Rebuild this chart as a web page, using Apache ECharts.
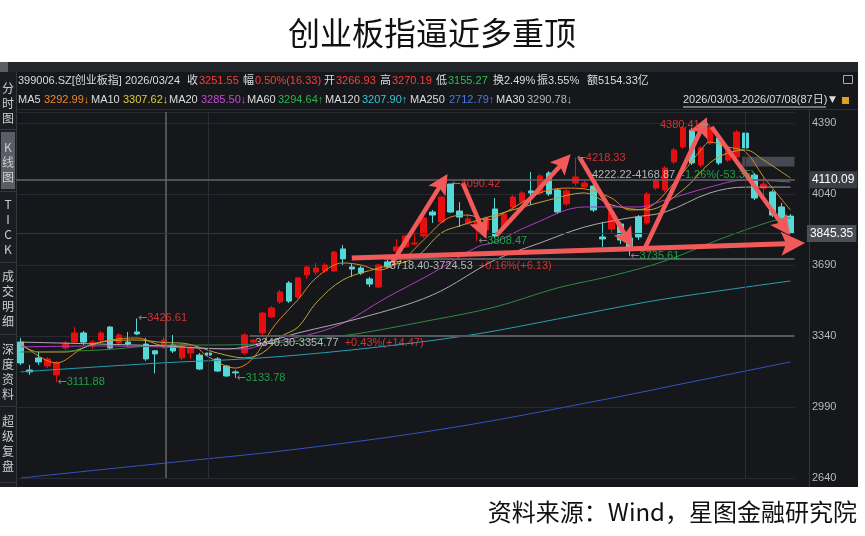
<!DOCTYPE html>
<html>
<head>
<meta charset="utf-8">
<script src="https://cdn.jsdelivr.net/npm/echarts@6.0.0/dist/echarts.min.js"></script>
<style>
html, body { margin: 0; padding: 0; background: #fff; }
#charts { width: 865px; height: 536px; }
</style>
</head>
<body>
<div id="charts"></div>
<script>
// trading days shown (2026/03/03 - 2026/07/08, 87 days)
var monthDays = {
    '03': [3, 4, 5, 6, 9, 10, 11, 12, 13, 16, 17, 18, 19, 20, 23, 24, 25, 26, 27, 30, 31],
    '04': [1, 2, 3, 7, 8, 9, 10, 13, 14, 15, 16, 17, 20, 21, 22, 23, 24, 27, 28, 29, 30],
    '05': [6, 7, 8, 11, 12, 13, 14, 15, 18, 19, 20, 21, 22, 25, 26, 27, 28, 29],
    '06': [1, 2, 3, 4, 5, 8, 9, 10, 11, 12, 15, 16, 17, 18, 22, 23, 24, 25, 26, 29, 30],
    '07': [1, 2, 3, 6, 7, 8]
};
var dates = [];
Object.keys(monthDays).forEach(function (m) {
    monthDays[m].forEach(function (d) {
        dates.push('2026/' + m + '/' + (d < 10 ? '0' + d : d));
    });
});

var opens = [3310, 3172, 3232, 3192, 3148, 3281, 3310, 3355, 3291, 3320,
    3384, 3305, 3310, 3360, 3300, 3266.93, 3286, 3296, 3232, 3256,
    3246, 3256, 3227, 3192, 3163, 3256, 3310, 3355, 3434, 3508,
    3601, 3532, 3641, 3655, 3660, 3660, 3769, 3680, 3675, 3621,
    3581, 3705, 3759, 3779, 3793, 3833, 3951, 3902, 4089, 3956,
    3897, 3877, 3862, 3966, 3877, 3976, 4000, 4055, 4045, 4143,
    4060, 3991, 4094, 4074, 4079, 3828, 3867, 3892, 3823, 3926,
    3897, 4069, 4060, 4198, 4272, 4355, 4183, 4291, 4316, 4207,
    4222, 4340, 4133, 4069, 4050, 3976, 3931];
var closes = [3207, 3163, 3212, 3227, 3207, 3305, 3355, 3310, 3310, 3355,
    3281, 3345, 3300, 3350, 3227, 3251.55, 3320, 3266, 3291, 3281,
    3177, 3246, 3167, 3143, 3158, 3345, 3320, 3453, 3478, 3557,
    3512, 3626, 3680, 3675, 3690, 3754, 3720, 3670, 3650, 3596,
    3690, 3680, 3779, 3833, 3798, 3922, 3936, 4025, 3951, 3926,
    3917, 3902, 3922, 3833, 3941, 4025, 4045, 4045, 4129, 4040,
    3951, 4055, 4124, 4094, 3961, 3818, 3951, 3813, 3774, 3828,
    4040, 4109, 4168, 4257, 4365, 4193, 4267, 4370, 4193, 4257,
    4345, 4267, 4020, 4089, 3936, 3912, 3845.35];
var lows = [3197, 3148, 3197, 3182, 3111.88, 3271, 3305, 3296, 3276, 3305,
    3276, 3291, 3291, 3345, 3217, 3155.27, 3276, 3256, 3222, 3227,
    3172, 3207, 3163, 3138, 3133.78, 3246, 3305, 3345, 3429, 3498,
    3503, 3522, 3621, 3641, 3650, 3655, 3690, 3631, 3641, 3581,
    3576, 3675, 3754, 3774, 3788, 3823, 3897, 3897, 3946, 3877,
    3887, 3808.47, 3833, 3823, 3867, 3966, 3991, 3986, 4035, 4030,
    3941, 3981, 4079, 4065, 3951, 3779, 3848, 3793, 3735.61, 3813,
    3887, 4060, 4050, 4188, 4262, 4183, 4173, 4281, 4183, 4198,
    4212, 4257, 4010, 4030, 3926, 3902, 3843];
var highs = [3330, 3197, 3261, 3236, 3217, 3315, 3384, 3365, 3320, 3365,
    3389, 3355, 3360, 3426.61, 3330, 3270.19, 3335, 3345, 3300, 3291,
    3256, 3261, 3236, 3197, 3172, 3355, 3325, 3458, 3488, 3567,
    3611, 3631, 3685, 3700, 3700, 3759, 3788, 3700, 3685, 3631,
    3695, 3715, 3818, 3838, 3848, 3926, 3961, 4030, 4090.42, 4000,
    3941, 3931, 3931, 4020, 3951, 4035, 4055, 4148, 4138, 4153,
    4069, 4065, 4218.33, 4104, 4089, 3902, 3971, 3902, 3833, 3936,
    4050, 4119, 4178, 4267, 4375, 4365, 4276, 4380.41, 4326, 4267,
    4355, 4370, 4143, 4119, 4060, 3996, 3941];

// moving averages: [day index, value]
var ma5Pts = [[0, 3305], [4, 3207], [7, 3281], [10, 3320], [13, 3330], [16, 3293], [19, 3296], [21, 3236],
    [24, 3182], [26, 3232], [28, 3370], [29, 3425], [31, 3520], [33, 3626], [36, 3700], [38, 3690],
    [40, 3665], [43, 3729], [45, 3813], [48, 3926], [50, 3936], [52, 3912], [54, 3946], [58, 4045],
    [61, 4069], [63, 4065], [66, 4020], [68, 3961], [70, 3971], [73, 4094], [76, 4257], [77, 4296],
    [79, 4272], [81, 4247], [83, 4124], [86, 3961]];
var ma10Pts = [[0, 3296], [2, 3261], [5, 3261], [9, 3310], [13, 3320], [16, 3307.62], [18, 3305], [22, 3256],
    [25, 3232], [27, 3256], [29, 3335], [31, 3384], [33, 3503], [36, 3616], [40, 3675], [44, 3724],
    [47, 3848], [49, 3882], [53, 3936], [59, 4010], [63, 4045], [66, 3986], [70, 3961], [74, 4060],
    [77, 4193], [79, 4242], [81, 4257], [83, 4207], [86, 4119]];
var ma20Pts = [[0, 3286], [9, 3291], [16, 3285.5], [25, 3276], [27, 3296], [35, 3384], [41, 3532], [46, 3650],
    [51, 3779], [53, 3803], [57, 3887], [63, 3976], [69, 3976], [72, 4010], [77, 4074], [81, 4109], [86, 4099]];
var ma30Pts = [[0, 3310], [9, 3300], [16, 3290.78], [23, 3276], [27, 3305], [31, 3355], [38, 3429], [46, 3542],
    [53, 3715], [58, 3798], [63, 3877], [68, 3922], [72, 3951], [77, 4045], [81, 4074], [86, 4074]];
var ma60Pts = [[0, 3261], [9, 3271], [16, 3294.64], [23, 3296], [35, 3335], [46, 3419], [53, 3483], [60, 3577],
    [66, 3636], [72, 3710], [78, 3815], [84, 3907], [86, 3922]];
var ma120Pts = [[0, 3163], [16, 3207.9], [23, 3222], [31, 3246], [42, 3296], [51, 3350], [60, 3424], [70, 3508],
    [78, 3562], [86, 3611]];
var ma250Pts = [[0, 2640], [14, 2704], [16, 2712.79], [31, 2783], [48, 2887], [65, 3025], [76, 3123], [86, 3212]];

// labelled highs / lows: [day index, price, side]
var extremes = [[13, 3426.61, 'R'], [4, 3111.88, 'R'], [24, 3133.78, 'R'], [48, 4090.42, 'R'],
    [51, 3808.47, 'R'], [62, 4218.33, 'R'], [68, 3735.61, 'R'], [77, 4380.41, 'L']];
// range notes: [start index, from, to, change]
var rangeNotes = [[26, 3340.30, 3354.77, '+0.43%(+14.47)'], [41, 3718.40, 3724.53, '+0.16%(+6.13)'],
    [63.6, 4222.22, 4168.87, '-1.26%(-53.35)']];
var rangeLines = [[25.6, 3340.30], [40.6, 3718.40]];
// hand-drawn arrows: [start, end] in [day index, price]
var arrows = [
    [[41.5, 3700], [47.1, 4096]],
    [[49.4, 4094], [51.6, 3864]],
    [[53.2, 3838], [60.7, 4199]],
    [[62.5, 4217], [67.8, 3818]],
    [[69.8, 3779], [76.2, 4374]],
    [[77.2, 4370], [85.3, 3876]],
    [[37.0, 3724], [86.3, 3796]]
];
var crossDay = 16.2, crossPrice = 4110.09, lastPrice = 3845.35;
var quarterDays = [21, 81];
var yTicks = { min: 2640, step: 350 };

var RED = '#ff3b3b', GREEN = '#1fc251', WHITE = '#dcdcdc';
var FONT = '"Noto Sans CJK SC", "Noto Sans", sans-serif';
var HFONT = '"Liberation Sans", "Noto Sans CJK SC", sans-serif';
var maDefs = [
    ['MA5', ma5Pts, '#e8841f', '#f08a24'],
    ['MA10', ma10Pts, '#bba63a', '#e0cc3a'],
    ['MA20', ma20Pts, '#b03cc4', '#c84ad8'],
    ['MA60', ma60Pts, '#2c8a43', '#2cb34e'],
    ['MA120', ma120Pts, '#25a0b2', '#38c6d4'],
    ['MA250', ma250Pts, '#3553c2', '#4a7ae6'],
    ['MA30', ma30Pts, '#a9abaf', '#b8b8b8']
];

var candles = dates.map(function (d, i) {
    return [opens[i], closes[i], lows[i], highs[i]];
});

var rich = {
    w: { color: WHITE, fontSize: 11, fontFamily: HFONT },
    r: { color: RED, fontSize: 11, fontFamily: HFONT },
    g: { color: GREEN, fontSize: 11, fontFamily: HFONT },
    a: { color: '#9c9c9c', fontSize: 11, fontFamily: 'DejaVu Sans' }
};

var series = [{
    type: 'candlestick',
    data: candles,
    barWidth: 6,
    z: 2,
    itemStyle: {
        color: '#e50f0f', color0: '#55d8d8',
        borderColor: '#e50f0f', borderColor0: '#55d8d8', borderWidth: 1
    }
}];

maDefs.forEach(function (m) {
    series.push({
        type: 'line', name: m[0], xAxisIndex: 1, data: m[1],
        symbol: 'none', smooth: 0.35, silent: true, z: 3,
        lineStyle: { color: m[2], width: 1 }
    });
});

// reference lines, crosshair, price boxes
var refLines = [];
quarterDays.forEach(function (d) {
    refLines.push({ xAxis: d, lineStyle: { color: '#2b2e34', width: 1 }, label: { show: false } });
});
refLines.push({ xAxis: crossDay, lineStyle: { color: '#63666d', width: 1.5 }, label: { show: false } });
refLines.push({
    yAxis: lastPrice, lineStyle: { color: '#34373d', width: 1 },
    label: { show: true, position: 'end', distance: 12, formatter: lastPrice.toFixed(2), color: '#fff',
        backgroundColor: '#4b4e56', padding: [3, 3, 2, 3], fontSize: 12, fontFamily: HFONT }
});
refLines.push({
    yAxis: crossPrice, lineStyle: { color: '#63666d', width: 1.5 },
    label: { show: true, position: 'end', distance: 14, formatter: crossPrice.toFixed(2), color: '#fff',
        backgroundColor: '#3b3e46', padding: [3, 3, 2, 3], fontSize: 12, fontFamily: HFONT }
});
var rangeLineData = rangeLines.map(function (r) {
    return [{ coord: [r[0], r[1]], lineStyle: { color: '#55585f', width: 2 } },
        { coord: [dates.length - 0.55, r[1]] }];
});

series.push({
    type: 'line', xAxisIndex: 1, data: [], silent: true, z: 1, clip: false,
    markLine: {
        silent: true, symbol: 'none', animation: false,
        lineStyle: { type: 'solid' }, label: { show: false },
        data: refLines.concat(rangeLineData)
    },
    markArea: {
        silent: true,
        itemStyle: { color: '#464951' },
        data: [[{ coord: [80.6, 4224] }, { coord: [dates.length - 0.55, 4175] }]]
    }
});

// high / low labels and range notes
var labelData = extremes.map(function (e) {
    var col = e[1] === highs[e[0]] ? 'r' : 'g';
    var txt = e[2] === 'L'
        ? '{' + col + '|' + e[1].toFixed(2) + '}{a|→}'
        : '{a|←}{' + col + '|' + e[1].toFixed(2) + '}';
    return {
        value: [e[0], e[1]],
        label: { show: true, position: e[2] === 'L' ? 'left' : 'right', distance: 1, formatter: txt, rich: rich }
    };
});
rangeNotes.forEach(function (n) {
    var col = n[3].charAt(0) === '+' ? 'r' : 'g';
    labelData.push({
        value: [n[0], Math.min(n[1], n[2])],
        label: {
            show: true, position: 'right', distance: 2, offset: [0, 7],
            formatter: '{w|' + n[1].toFixed(2) + '-' + n[2].toFixed(2) + '}{w|  }{' + col + '|' + n[3] + '}',
            rich: rich
        }
    });
});
series.push({
    type: 'scatter', xAxisIndex: 1, symbolSize: 0, silent: true, z: 6, clip: false,
    data: labelData
});

// red arrows
series.push({
    type: 'line', xAxisIndex: 1, data: [], silent: true, z: 10, clip: false,
    markLine: {
        silent: true, animation: false,
        symbol: ['none', 'path://M10,0 L20,24 L10,19 L0,24 Z'],
        symbolSize: 20,
        lineStyle: { color: '#f25a5a', width: 4.5, type: 'solid', opacity: 1 },
        itemStyle: { color: '#f25a5a' },
        label: { show: false },
        data: arrows.map(function (a, i) {
            var last = i === arrows.length - 1;
            var end = { coord: a[1], symbolSize: last ? 24 : 20 };
            return [{ coord: a[0], lineStyle: { width: last ? 5 : 4.5 } }, end];
        })
    }
});

// page furniture
var header1 = [[18, '399006.SZ[创业板指]', WHITE], [125, '2026/03/24', WHITE], [187, '收', WHITE],
    [199, '3251.55', RED], [243, '幅', WHITE], [255, '0.50%(16.33)', RED], [324, '开', WHITE],
    [336, '3266.93', RED], [380, '高', WHITE], [392, '3270.19', RED], [436, '低', WHITE],
    [448, '3155.27', GREEN], [493, '换2.49%', WHITE], [537, '振3.55%', WHITE], [587, '额5154.33亿', WHITE]];
var maValues = ['3292.99↓', '3307.62↓', '3285.50↓', '3294.64↑', '3207.90↑', '2712.79↑', '3290.78↓'];
var header2Pos = [[18, 44], [91, 123], [169, 201], [247, 278], [325, 362], [410, 449], [496, 527]];
var sideChars = [['分', 88], ['时', 103], ['图', 118], ['K', 147], ['线', 162], ['图', 177],
    ['T', 204], ['I', 219], ['C', 234], ['K', 249], ['成', 276], ['交', 291], ['明', 306], ['细', 321],
    ['深', 349], ['度', 364], ['资', 379], ['料', 394], ['超', 421], ['级', 436], ['复', 451], ['盘', 466]];

var graphic = [
    { type: 'rect', z: -100, shape: { x: 0, y: 62, width: 858, height: 425 }, style: { fill: '#15171b' } },
    { type: 'rect', z: -99, shape: { x: 0, y: 62, width: 858, height: 10 }, style: { fill: '#23262b' } },
    { type: 'rect', z: -99, shape: { x: 0, y: 62, width: 8, height: 10 }, style: { fill: '#5b5e66' } },
    { type: 'rect', z: -99, shape: { x: 0, y: 72, width: 16, height: 415 }, style: { fill: '#1b1d22' } },
    { type: 'rect', z: -98, shape: { x: 1, y: 132, width: 14, height: 57 }, style: { fill: '#5a5d65' } },
    { type: 'line', z: -97, shape: { x1: 16.5, y1: 72, x2: 16.5, y2: 487 }, style: { stroke: '#34373e', lineWidth: 1 } },
    { type: 'line', z: -97, shape: { x1: 16, y1: 109.5, x2: 858, y2: 109.5 }, style: { stroke: '#2a2d33', lineWidth: 1 } },
    { type: 'line', z: -97, shape: { x1: 809.5, y1: 109, x2: 809.5, y2: 487 }, style: { stroke: '#34373d', lineWidth: 1 } },
    { type: 'text', x: 432, y: 33, style: { text: '创业板指逼近多重顶', fill: '#111', font: '32px ' + FONT, align: 'center', verticalAlign: 'middle' } },
    { type: 'text', x: 857, y: 512, style: { text: '资料来源：Wind，星图金融研究院', fill: '#111', font: '24px ' + FONT, align: 'right', verticalAlign: 'middle' } },
    { type: 'line', shape: { x1: 683, y1: 107, x2: 826, y2: 107 }, style: { stroke: '#cfcfcf', lineWidth: 1 } },
    { type: 'rect', shape: { x: 842, y: 97, width: 7, height: 7 }, style: { fill: '#e0a020' } },
    { type: 'rect', shape: { x: 843.5, y: 75.5, width: 9, height: 8 }, style: { fill: 'none', stroke: '#a8a8a8', lineWidth: 1 } }
];
[129, 191, 262, 334, 406, 482].forEach(function (y) {
    graphic.push({ type: 'line', z: -97, shape: { x1: 0, y1: y + 0.5, x2: 16, y2: y + 0.5 }, style: { stroke: '#34373e', lineWidth: 1 } });
});
sideChars.forEach(function (c) {
    graphic.push({ type: 'text', x: 8, y: c[1], style: { text: c[0], fill: '#cdcdcd', font: '12px ' + FONT, align: 'center', verticalAlign: 'middle' } });
});
header1.forEach(function (h) {
    graphic.push({ type: 'text', x: h[0], y: 81, style: { text: h[1], fill: h[2], font: '11px ' + HFONT, verticalAlign: 'middle' } });
});
maDefs.forEach(function (m, i) {
    graphic.push({ type: 'text', x: header2Pos[i][0], y: 100, style: { text: m[0], fill: WHITE, font: '11px ' + HFONT, verticalAlign: 'middle' } });
    graphic.push({ type: 'text', x: header2Pos[i][1], y: 100, style: { text: maValues[i], fill: m[3], font: '11px ' + HFONT, verticalAlign: 'middle' } });
});
graphic.push({ type: 'text', x: 683, y: 100, style: { text: dates[0] + '-' + dates[dates.length - 1] + '(' + dates.length + '日)', fill: WHITE, font: '11px ' + HFONT, verticalAlign: 'middle' } });
graphic.push({ type: 'text', x: 829, y: 100, style: { text: '▼', fill: WHITE, font: '9px "DejaVu Sans"', verticalAlign: 'middle' } });

var myChart = echarts.init(document.getElementById('charts'));
var option = {
    backgroundColor: '#ffffff',
    animation: false,
    grid: { left: 16.2, right: 70.1, top: 112, bottom: 58 },
    xAxis: [{
        type: 'category', data: dates, boundaryGap: true,
        axisLine: { show: false }, axisTick: { show: false }, axisLabel: { show: false }, splitLine: { show: false }
    }, {
        type: 'value', min: -0.5, max: dates.length - 0.5, show: false
    }],
    yAxis: {
        type: 'value', position: 'right', offset: 14,
        min: yTicks.min, max: 4444, interval: yTicks.step,
        axisLine: { show: false },
        axisTick: { show: false },
        axisLabel: {
            color: '#b9b9b9', fontSize: 11, margin: 3, showMaxLabel: false, fontFamily: HFONT,
            formatter: function (v) { return String(v); }
        },
        splitLine: { lineStyle: { color: '#272a30' } }
    },
    graphic: graphic,
    series: series
};
myChart.setOption(option);
</script>
</body>
</html>
